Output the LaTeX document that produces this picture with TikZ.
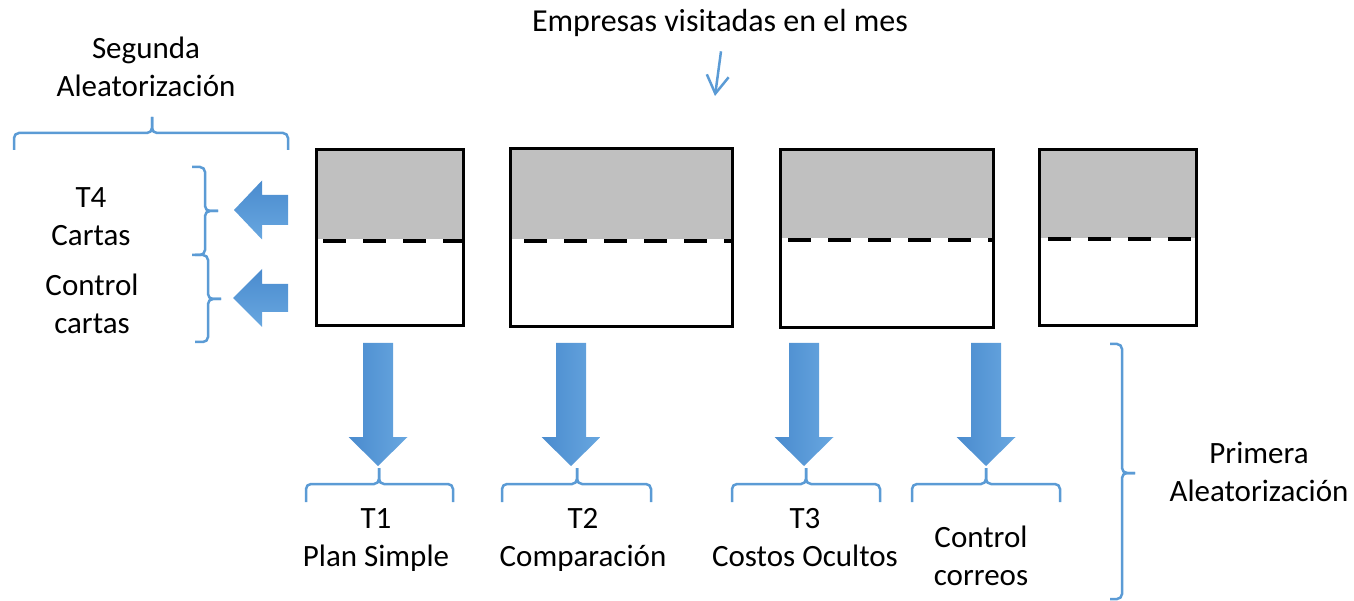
\documentclass[tikz,border=0pt]{standalone}
\usepackage{fontspec}
\setmainfont{Carlito}
\usetikzlibrary{arrows.meta}

\definecolor{bracecol}{RGB}{91,155,213}
\definecolor{arrowdark}{RGB}{74,139,206}
\definecolor{arrowlight}{RGB}{104,167,224}
\definecolor{shadecol}{RGB}{192,192,192}

\tikzset{
    lbl/.style={font=\fontsize{31}{38}\selectfont, align=center, inner sep=0pt, anchor=base},
    boxline/.style={draw=black, line width=3pt},
    cut/.style={draw=black, line width=3.5pt, dash pattern=on 23pt off 17pt},
    bracket/.style={draw=bracecol, line width=2.5pt, rounded corners=5pt},
    downarrow/.style={left color=arrowdark, right color=arrowlight},
    leftarrow/.style={top color=arrowdark, bottom color=arrowlight},
    thinarrow/.style={draw=bracecol, line width=2.5pt,
        -{Straight Barb[length=18pt, width=22pt, line width=2.5pt]}},
}

\begin{document}
\begin{tikzpicture}[x=1pt, y=-1pt]

\useasboundingbox (0,0) rectangle (1354,601);

% labels (anchored at the baseline of the last line)
\node[lbl, font=\fontsize{32}{38}\selectfont] (mes) at (720,32) {Empresas visitadas en el mes};
\node[lbl] (segunda) at (146,97) {Segunda\\Aleatorización};
\node[lbl] (cartas) at (91,246) {T4\\Cartas};
\node[lbl] (ctrlcartas) at (92,334) {Control\\cartas};
\node[lbl] (plan) at (376,566) {T1\\Plan Simple};
\node[lbl] (comp) at (583,566) {T2\\Comparación};
\node[lbl] (costos) at (805,566) {T3\\Costos Ocultos};
\node[lbl] (correos) at (981,585) {Control\\correos};
\node[lbl] (primera) at (1259,501) {Primera\\Aleatorización};

% boxes
\fill[shadecol] (316,150) rectangle (463,239);
\draw[cut] (323,241) -- (463,241);
\draw[boxline] (316,150) rectangle (463,326);

\fill[shadecol] (510,149) rectangle (732,239);
\draw[cut] (524,241) -- (732,241);
\draw[boxline] (510,149) rectangle (732,327);

\fill[shadecol] (780,150) rectangle (993,238);
\draw[cut] (788,240) -- (993,240);
\draw[boxline] (780,150) rectangle (993,328);

\fill[shadecol] (1039,150) rectangle (1196,238);
\draw[cut] (1048,239) -- (1196,239);
\draw[boxline] (1039,150) rectangle (1196,326);

% arrow into the month
\coordinate (mesHead) at (715,96);
\draw[thinarrow] ([xshift=1pt, yshift=-14pt]mes.south) -- (mesHead);

% block arrows down
\coordinate (A1) at (378,343);
\coordinate (A2) at (571,343);
\coordinate (A3) at (804,343);
\coordinate (A4) at (986,343);
\shade[downarrow] (A1) ++(-15,0) -- ++(30,0) -- ++(0,94) -- ++(14.5,0)
    -- ++(-29.5,29) -- ++(-29.5,-29) -- ++(14.5,0) -- cycle;
\shade[downarrow] (A2) ++(-15,0) -- ++(30,0) -- ++(0,94) -- ++(14.5,0)
    -- ++(-29.5,29) -- ++(-29.5,-29) -- ++(14.5,0) -- cycle;
\shade[downarrow] (A3) ++(-15,0) -- ++(30,0) -- ++(0,94) -- ++(14.5,0)
    -- ++(-29.5,29) -- ++(-29.5,-29) -- ++(14.5,0) -- cycle;
\shade[downarrow] (A4) ++(-15,0) -- ++(30,0) -- ++(0,94) -- ++(14.5,0)
    -- ++(-29.5,29) -- ++(-29.5,-29) -- ++(14.5,0) -- cycle;

% block arrows left
\coordinate (L1) at (288,210);
\coordinate (L2) at (288,298);
\shade[leftarrow] (L1) ++(0,-15) -- ++(0,30) -- ++(-26,0) -- ++(0,14.5)
    -- ++(-28,-29.5) -- ++(28,-29.5) -- ++(0,14.5) -- cycle;
\shade[leftarrow] (L2) ++(0,-14) -- ++(0,28) -- ++(-26,0) -- ++(0,15)
    -- ++(-29,-29) -- ++(29,-29) -- ++(0,15) -- cycle;

% brackets below
\draw[bracket] (306,502) |- (379,484) -- (379,468);
\draw[bracket] (453,502) |- (379,484) -- (379,468);
\draw[bracket] (502,502) |- (577,484) -- (577,468);
\draw[bracket] (651,502) |- (577,484) -- (577,468);
\draw[bracket] (732,502) |- (806,484) -- (806,468);
\draw[bracket] (880,502) |- (806,484) -- (806,468);
\draw[bracket] (912,502) |- (986,484) -- (986,468);
\draw[bracket] (1060,502) |- (986,484) -- (986,468);

% bracket on the right
\draw[bracket] (1110,344) -| (1122,473) -- (1135,473);
\draw[bracket] (1110,599) -| (1122,473) -- (1135,473);

% bracket on top left
\draw[bracket] (14,150) |- (152,133) -- (152,117);
\draw[bracket] (288,150) |- (152,133) -- (152,117);

% brackets left
\draw[bracket] (192,167) -| (205,211) -- (218,211);
\draw[bracket] (192,255) -| (205,211) -- (218,211);
\draw[bracket] (195,255) -| (208,299) -- (221,299);
\draw[bracket] (195,342) -| (208,299) -- (221,299);

\end{tikzpicture}
\end{document}
